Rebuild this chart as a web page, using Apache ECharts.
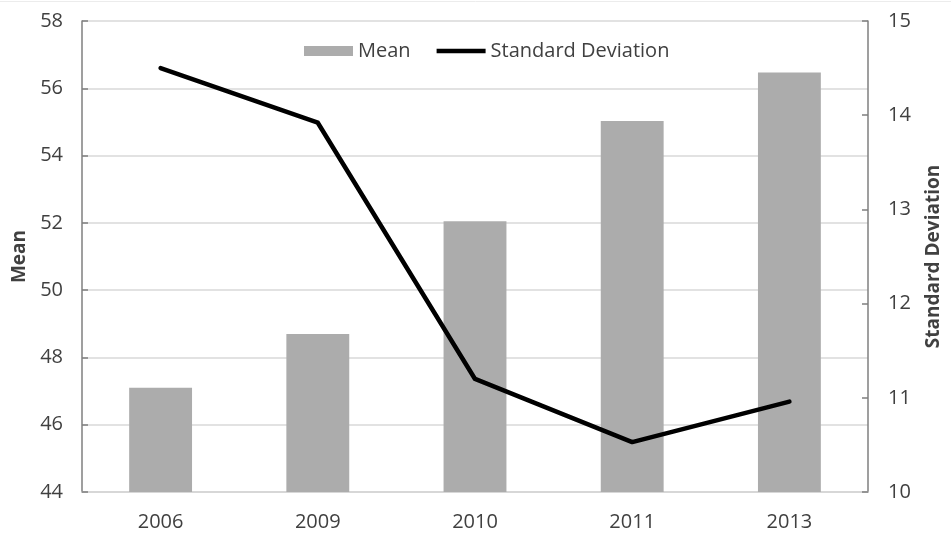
<!DOCTYPE html>
<html>
<head>
<meta charset="utf-8">
<style>
  html, body { margin: 0; padding: 0; background: #ffffff; }
  #chart { width: 951px; height: 537px; }
</style>
<script src="https://cdn.jsdelivr.net/npm/echarts@6/dist/echarts.min.js"></script>
</head>
<body>
<div id="chart"></div>
<script>
// Survey years
const years = ['2006', '2009', '2010', '2011', '2013'];
// Mean score per year (left axis)
const meanValues = [47.1, 48.7, 52.05, 55.03, 56.47];
// Standard deviation per year (right axis)
const sdValues = [14.5, 13.92, 11.2, 10.53, 10.96];

const FONT = '"Open Sans", "Noto Sans", sans-serif';
const TEXT = '#404040';

const chart = echarts.init(document.getElementById('chart'), null, { renderer: 'canvas' });

chart.setOption({
  animation: false,
  backgroundColor: '#ffffff',
  textStyle: { fontFamily: FONT },
  graphic: [{
    type: 'line',
    shape: { x1: 0, y1: 1.5, x2: 951, y2: 1.5 },
    style: { stroke: '#ececec', lineWidth: 1 },
    silent: true
  }],
  grid: { left: 82, right: 78, top: 21, bottom: 45 },
  legend: {
    left: 299,
    top: 36,
    itemGap: 26,
    itemWidth: 49,
    itemHeight: 10,
    textStyle: { fontFamily: FONT, fontSize: 20, color: TEXT },
    data: [
      { name: 'Mean', icon: 'rect' },
      { name: 'Standard Deviation', icon: 'path://M0,0 H50 V4.5 H0 Z', itemStyle: { color: '#000000' } }
    ]
  },
  xAxis: {
    type: 'category',
    data: years,
    axisLine: { lineStyle: { color: '#d4d4d4', width: 1.5 } },
    axisTick: { show: false },
    axisLabel: { color: TEXT, fontFamily: FONT, fontSize: 20, margin: 20 }
  },
  yAxis: [
    {
      type: 'value',
      min: 44,
      max: 58,
      interval: 2,
      name: 'Mean',
      nameLocation: 'middle',
      nameGap: 52,
      nameRotate: 90,
      nameTextStyle: { color: TEXT, fontFamily: FONT, fontSize: 19, fontWeight: 'bold' },
      axisLine: { show: true, lineStyle: { color: '#7f7f7f', width: 1.5 } },
      axisTick: { show: true, inside: true, length: 6, lineStyle: { color: '#7f7f7f', width: 1.5 } },
      axisLabel: { color: TEXT, fontFamily: FONT, fontSize: 20, margin: 19 },
      splitLine: { show: true, lineStyle: { color: '#d9d9d9', width: 1.5 } }
    },
    {
      type: 'value',
      min: 10,
      max: 15,
      interval: 1,
      name: 'Standard Deviation',
      nameLocation: 'middle',
      nameGap: 56,
      nameRotate: 90,
      nameTextStyle: { color: TEXT, fontFamily: FONT, fontSize: 19, fontWeight: 'bold' },
      axisLine: { show: true, lineStyle: { color: '#7f7f7f', width: 1.5 } },
      axisTick: { show: true, inside: true, length: 6, lineStyle: { color: '#7f7f7f', width: 1.5 } },
      axisLabel: { color: TEXT, fontFamily: FONT, fontSize: 20, margin: 20 },
      splitLine: { show: false }
    }
  ],
  series: [
    {
      name: 'Mean',
      type: 'bar',
      yAxisIndex: 0,
      data: meanValues,
      barWidth: '40%',
      itemStyle: { color: '#acacac' },
      z: 2
    },
    {
      name: 'Standard Deviation',
      type: 'line',
      yAxisIndex: 1,
      data: sdValues,
      showSymbol: false,
      symbol: 'none',
      lineStyle: { color: '#000000', width: 4.5, cap: 'round', join: 'round' },
      itemStyle: { color: '#000000' },
      z: 3
    }
  ]
});
</script>
</body>
</html>
